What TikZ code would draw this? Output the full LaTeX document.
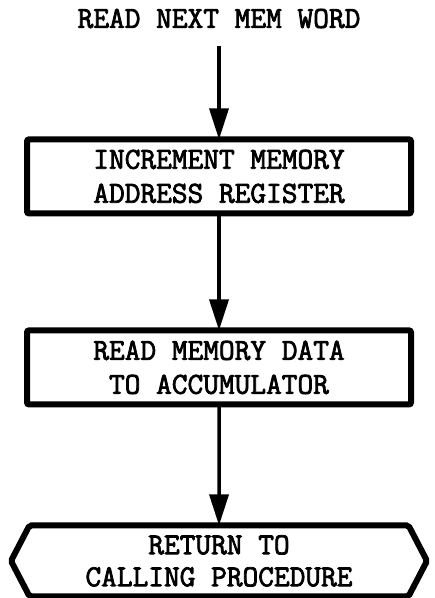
\documentclass[tikz,border=0pt]{standalone}
\usepackage{fontspec}
\newfontfamily\typew{Latin Modern Mono}[FakeBold=2.5]
\usepackage{tikz}
\usetikzlibrary{shapes,arrows.meta,positioning}

\begin{document}
\begin{tikzpicture}[
    x=1pt, y=1pt,
    node distance=117pt,
    heading/.style={inner sep=0pt, font=\typew\fontsize{30.5}{34}\selectfont},
    process/.style={rectangle, draw, line width=6pt, rounded corners=2pt, outer sep=0pt, minimum width=384pt, minimum height=74pt, align=center, font=\typew\fontsize{30.5}{34}\selectfont},
    terminal/.style={signal, signal to=west and east, signal pointer angle=125, draw, line width=6pt, rounded corners=2pt, outer sep=0pt, minimum width=416pt, minimum height=71pt, align=center, font=\typew\fontsize{30.5}{32}\selectfont},
    arrow/.style={-{Triangle[length=31pt,width=19pt]}, line width=3.5pt}
    ]

    \useasboundingbox (0,0) rectangle (435,-598);

    % Entrada
    \node[heading] (title) at (219,-18.5) {READ NEXT MEM WORD};

    % Pasos
    \node[process, below=111pt of title] (incr) {INCREMENT MEMORY\\ADDRESS REGISTER};
    \node[process, below=of incr] (readmem) {READ MEMORY DATA\\TO ACCUMULATOR};

    % Salida
    \node[terminal, below=121pt of readmem] (ret) {RETURN TO\\CALLING PROCEDURE};

    % Flechas
    \draw[arrow, shorten <=18pt] (title) -- (incr);
    \draw[arrow] (incr) -- (readmem);
    \draw[arrow] (readmem) -- (ret);

    \end{tikzpicture}
\end{document}
